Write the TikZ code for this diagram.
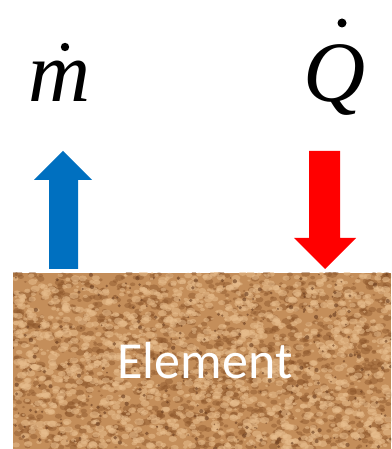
\documentclass[tikz,border=0pt]{standalone}
\usepackage{fontspec}
\newfontfamily\tmsfont{Liberation Serif}
\newfontfamily\calfont{Carlito}
\definecolor{sand}{RGB}{196,142,90}
\definecolor{sanddark}{RGB}{140,85,42}
\definecolor{sanddeep}{RGB}{105,60,30}
\definecolor{sandlight}{RGB}{232,190,142}
\definecolor{flowblue}{RGB}{0,112,192}
\definecolor{heatred}{RGB}{255,0,0}
\tikzset{
  sym/.style={inner sep=0pt, anchor=base, font=\tmsfont\itshape\fontsize{86}{86}\selectfont},
  dotmark/.style={fill=black, draw=none},
  arrowbody/.style={draw=none},
}
\begin{document}
\begin{tikzpicture}[x=1pt,y=1pt]
\useasboundingbox (0,0) rectangle (391,449);
% element block with texture
\fill[sand] (13,0) rectangle (391,176);
\begin{scope}
\clip (13,0) rectangle (391,176);
\pgfmathsetseed{11}
\foreach \i in {1,...,1400}{
  \pgfmathsetmacro{\px}{13+378*rnd}
  \pgfmathsetmacro{\py}{176*rnd}
  \pgfmathsetmacro{\sz}{1.5+3.5*rnd}
  \fill[sanddark, opacity=0.45] (\px,\py) ellipse ({\sz} and {\sz*0.7});
}
\foreach \i in {1,...,1600}{
  \pgfmathsetmacro{\px}{13+378*rnd}
  \pgfmathsetmacro{\py}{176*rnd}
  \pgfmathsetmacro{\sz}{1.5+3.5*rnd}
  \fill[sandlight, opacity=0.55] (\px,\py) ellipse ({\sz} and {\sz*0.7});
}
\foreach \i in {1,...,250}{
  \pgfmathsetmacro{\px}{13+378*rnd}
  \pgfmathsetmacro{\py}{176*rnd}
  \pgfmathsetmacro{\sz}{0.8+1.4*rnd}
  \fill[sanddeep, opacity=0.6] (\px,\py) circle (\sz);
}
\end{scope}
\node[inner sep=0pt, anchor=base, text=white, font=\calfont\fontsize{52}{52}\selectfont] (elem) at (205,70) {Element};
% symbols
\node[sym] (mdot) at (60,347) {m};
\fill[dotmark] (65,402) circle (4.2);
\node[sym] (qdot) at (335,347) {Q};
\fill[dotmark] (342,426) circle (4.5);
% blue arrow (mass flow, upward)
\fill[flowblue, arrowbody] (49,180) -- (78,180) -- (78,269) -- (92,269) -- (63,298) -- (34,269) -- (49,269) -- cycle;
% red arrow (heat, downward)
\fill[heatred, arrowbody] (309,298) -- (340,298) -- (340,211) -- (356,211) -- (325,180) -- (294,211) -- (309,211) -- cycle;
\end{tikzpicture}
\end{document}
